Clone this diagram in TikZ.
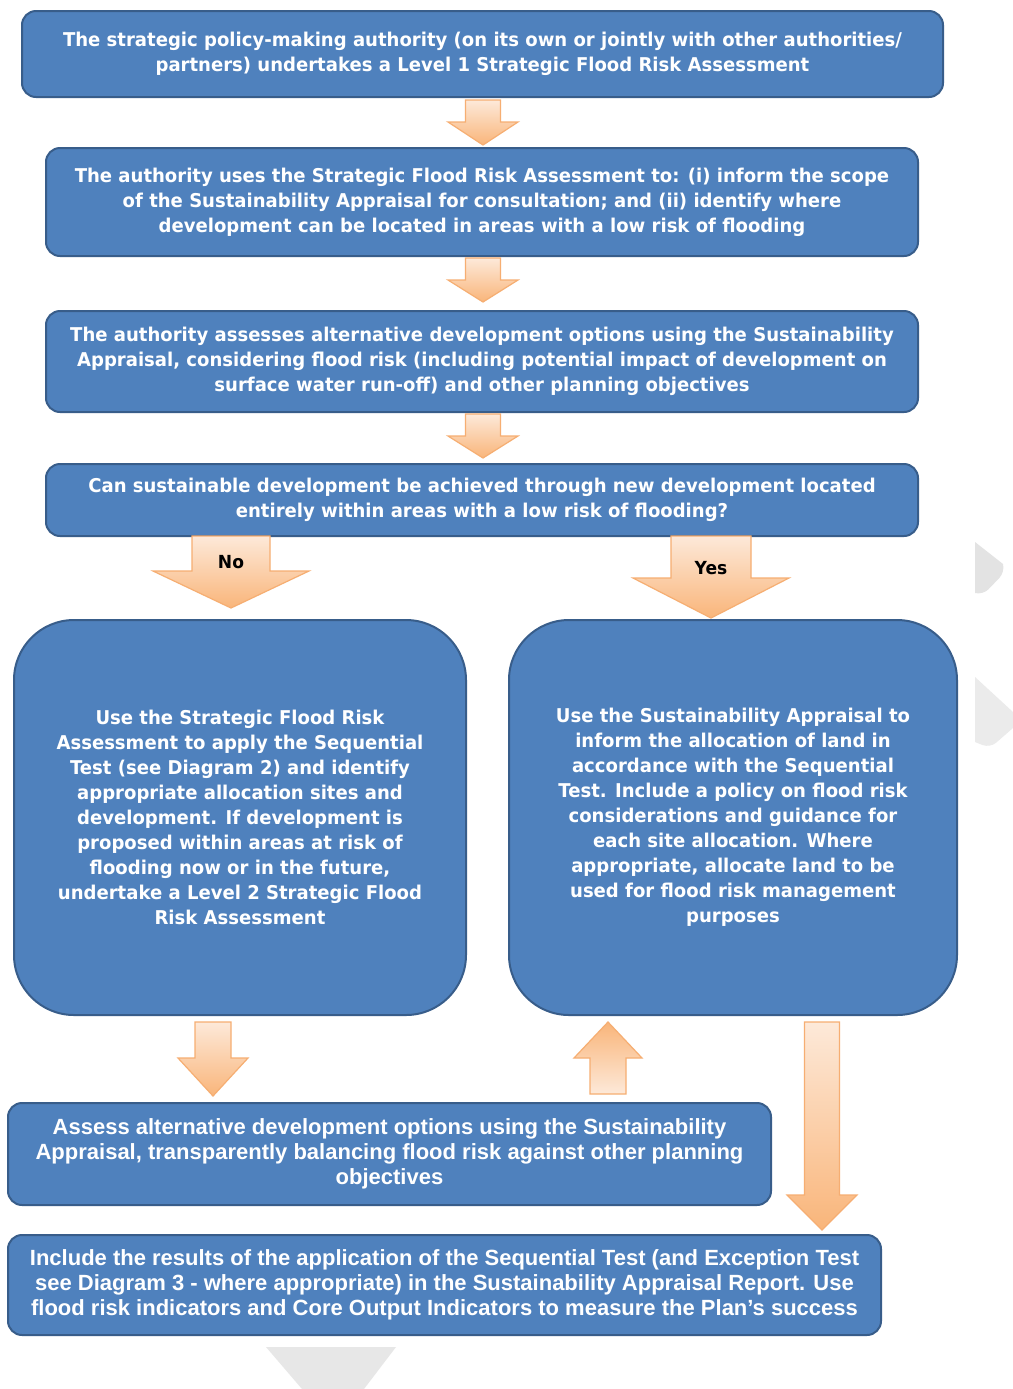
\documentclass[tikz,border=0pt]{standalone}
\usepackage{fontspec}
\setmainfont[FakeStretch=0.95]{DejaVu Sans}
\newfontfamily\narrowfont{Liberation Sans}
\usetikzlibrary{shadows}
\definecolor{boxblue}{HTML}{4F81BD}
\definecolor{boxedge}{HTML}{385D8A}
\definecolor{arrowlight}{HTML}{FDE9D9}
\definecolor{arrowdark}{HTML}{F9B57A}
\definecolor{arrowedge}{HTML}{F6AE72}
\definecolor{ghost}{HTML}{E3E3E3}
\tikzstyle{flowbox}=[rectangle,rounded corners=7pt,fill=boxblue,draw=boxedge,line width=1pt,text=white,align=center,inner sep=0pt,font=\bfseries\fontsize{9.5}{12.5}\selectfont]
\tikzstyle{bigbox}=[flowbox,rounded corners=30pt]
\tikzstyle{narrowbox}=[flowbox,font=\narrowfont\bfseries\fontsize{11}{12.5}\selectfont]
\tikzstyle{blockarrow}=[draw=arrowedge,line width=0.6pt,top color=arrowlight,bottom color=arrowdark]
\tikzstyle{armlabel}=[font=\bfseries\fontsize{9}{10}\selectfont,text=black,inner sep=0pt]
\tikzstyle{ghostmark}=[fill=ghost,rounded corners=3pt]

% block arrow: [style] x, shaft start, head base, tip, shaft half width, head half width
\newcommand{\blockarrow}[7][]{%
  \path[blockarrow,#1] (#2-#6,#3) -- (#2+#6,#3) -- (#2+#6,#4) -- (#2+#7,#4) -- (#2,#5)
    -- (#2-#7,#4) -- (#2-#6,#4) -- cycle;}

\begin{document}
\begin{tikzpicture}[x=0.5pt,y=-0.5pt]
\useasboundingbox[fill=white] (0,0) rectangle (1013,1389);

% faint marks at the edges
\fill[ghost] (975,542) -- (1003,564) [rounded corners=4pt] -- (1005,572) -- (983,595) [sharp corners] -- (975,593) -- cycle;
\fill[ghost!70] (975,677) -- (1013,712) -- (1013,728) [rounded corners=4pt] -- (990,748) [sharp corners] -- (975,742) -- cycle;
\fill[ghost!85] (266,1347) -- (396,1347) -- (364,1389) -- (302,1389) -- cycle;

% boxes
\node[flowbox,minimum width=460.5pt,minimum height=43pt] (assess1) at (482.5,54)
  {The strategic policy-making authority (on its own or jointly with other authorities/\\
   partners) undertakes a Level 1 Strategic Flood Risk Assessment};
\node[flowbox,minimum width=436pt,minimum height=54pt] (scope) at (482,202)
  {The authority uses the Strategic Flood Risk Assessment to: (i) inform the scope\\
   of the Sustainability Appraisal for consultation; and (ii) identify where\\
   development can be located in areas with a low risk of flooding};
\node[flowbox,minimum width=436pt,minimum height=50.5pt] (options) at (482,361.5)
  {The authority assesses alternative development options using the Sustainability\\
   Appraisal, considering flood risk (including potential impact of development on\\
   surface water run-off) and other planning objectives};
\node[flowbox,minimum width=436pt,minimum height=36pt] (question) at (482,500)
  {Can sustainable development be achieved through new development located\\
   entirely within areas with a low risk of flooding?};
\node[bigbox,minimum width=226pt,minimum height=197.5pt] (seqtest) at (240,817.5)
  {Use the Strategic Flood Risk\\
   Assessment to apply the Sequential\\
   Test (see Diagram 2) and identify\\
   appropriate allocation sites and\\
   development. If development is\\
   proposed within areas at risk of\\
   flooding now or in the future,\\
   undertake a Level 2 Strategic Flood\\
   Risk Assessment};
\node[bigbox,minimum width=224pt,minimum height=197.5pt] (allocate) at (733,817.5)
  {Use the Sustainability Appraisal to\\
   inform the allocation of land in\\
   accordance with the Sequential\\
   Test. Include a policy on flood risk\\
   considerations and guidance for\\
   each site allocation. Where\\
   appropriate, allocate land to be\\
   used for flood risk management\\
   purposes};
\node[narrowbox,minimum width=381.5pt,minimum height=51pt] (balance) at (389.5,1154)
  {Assess alternative development options using the Sustainability\\
   Appraisal, transparently balancing flood risk against other planning\\
   objectives};
\node[narrowbox,minimum width=436.5pt,minimum height=50pt] (report) at (444.5,1285)
  {Include the results of the application of the Sequential Test (and Exception Test\\
   see Diagram 3 - where appropriate) in the Sustainability Appraisal Report. Use\\
   flood risk indicators and Core Output Indicators to measure the Plan’s success};

% arrows
\foreach \x/\ys/\yb/\yt/\sw/\hw in {483/100/122/145/17.5/35, 483/258/280/302/17.5/35, 483/414/436/458/17.5/35,
    231/536/571/608/39/78, 711/536/578/618/40/78, 213/1022/1058/1096/18/35, 822/1022/1195/1230/17.5/35}
  \blockarrow{\x}{\ys}{\yb}{\yt}{\sw}{\hw};
\blockarrow[top color=arrowdark,bottom color=arrowlight]{608}{1094}{1058}{1022}{18}{34};

% labels
\node[armlabel] (nolabel) at (231,562) {No};
\node[armlabel] (yeslabel) at (711,568) {Yes};

\end{tikzpicture}
\end{document}
